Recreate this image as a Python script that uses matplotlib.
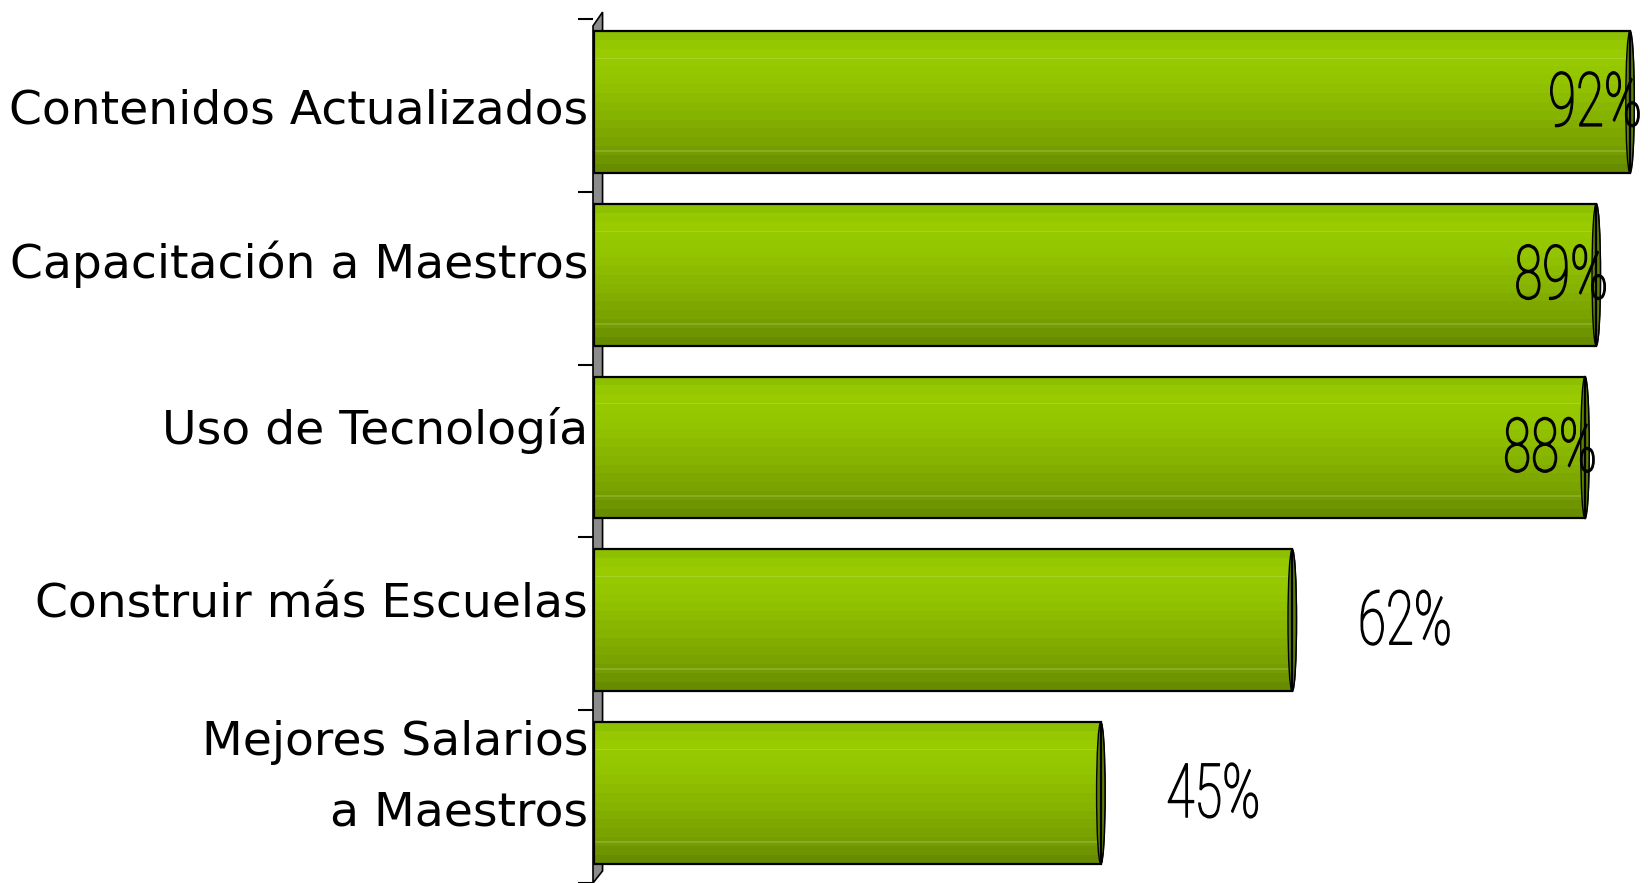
import numpy as np
import matplotlib
matplotlib.use("Agg")
import matplotlib.pyplot as plt
from matplotlib.patches import Polygon, Ellipse, Rectangle
from matplotlib.colors import LinearSegmentedColormap
from matplotlib.patheffects import AbstractPathEffect
from matplotlib.transforms import Affine2D

categories = ["Contenidos Actualizados", "Capacitación a Maestros", "Uso de Tecnología",
              "Construir más Escuelas", "Mejores Salarios\na Maestros"]
values = [92, 89, 88, 62, 45]
value_labels = ["92%", "89%", "88%", "62%", "45%"]


class HScale(AbstractPathEffect):
    """Horizontally condense text glyphs (narrow font look), with optional outline."""
    def __init__(self, sx, anchor="center", stroke=0.0):
        super().__init__()
        self.sx = sx
        self.anchor = anchor
        self.stroke = stroke

    def draw_path(self, renderer, gc, tpath, affine, rgbFace=None):
        bb = tpath.get_extents(affine)
        if self.anchor == "center":
            x0 = (bb.x0 + bb.x1) / 2
        elif self.anchor == "right":
            x0 = bb.x1
        else:
            x0 = bb.x0
        new = affine + Affine2D().translate(-x0, 0).scale(self.sx, 1).translate(x0, 0)
        gc0 = renderer.new_gc()
        gc0.copy_properties(gc)
        if self.stroke > 0 and rgbFace is not None:
            gc0.set_linewidth(self.stroke)
            gc0.set_foreground(rgbFace)
            gc0.set_joinstyle("round")
        renderer.draw_path(gc0, tpath, new, rgbFace)
        gc0.restore()


W, H = 1648, 883
fig = plt.figure(figsize=(W / 100, H / 100), dpi=100)
ax = fig.add_axes([593 / W, 0, 1055 / W, 864 / H])
ax.set_xlim(-0.1, 93.6)
ax.set_ylim(4.5, -0.5)

# gradient for the cylinder bars (banded like the original)
stops = [(0.0, "#8cc000"), (0.10, "#9acd00"), (0.35, "#93c400"),
         (0.60, "#86b200"), (0.85, "#77a000"), (1.0, "#688c00")]
cmap = LinearSegmentedColormap.from_list("g", stops)
nb = 16
grad = np.floor(np.linspace(0, 1, 200) * nb) / (nb - 1)
grad = np.clip(grad, 0, 1)
rgb = cmap(grad)[:, None, :3]
for idx in (38, 39, 168, 169):
    rgb[idx] = np.clip(rgb[idx] * 0.85 + 0.15, 0, 1)

# left wall
wall = Polygon([(-0.1, -0.46), (0.75, -0.54), (0.75, 4.43), (-0.1, 4.5)],
               closed=True, facecolor="#8c8c8c", edgecolor="black", lw=1.2,
               clip_on=False, zorder=1)
ax.add_patch(wall)

h = 0.82
ypos = np.arange(len(categories)) - 0.02
bars = ax.barh(ypos, values, height=h, left=0, color="none", edgecolor="black",
               linewidth=1.6, zorder=4)
for b, y, v in zip(bars, ypos, values):
    cap = Ellipse((v, y), width=0.75, height=h, facecolor="#5f7f00",
                  edgecolor="black", lw=1.2, zorder=2)
    ax.add_patch(cap)
    im = ax.imshow(rgb, extent=[0, v, y + h / 2, y - h / 2], aspect="auto",
                   interpolation="nearest", zorder=3)
    im.set_clip_path(b)
    cap2 = Ellipse((v, y), width=0.75, height=h, facecolor="#5f7f00",
                   edgecolor="black", lw=1.0, zorder=3.5)
    cap2.set_clip_path(Rectangle((v - 0.12, y - h / 2), 1.0, h, transform=ax.transData))
    ax.add_patch(cap2)

ax.set_xlim(-0.1, 93.6)
ax.set_ylim(4.5, -0.5)

# value labels (narrow font look)
for y, v, t in zip(ypos, values, value_labels):
    xc = v + 10 if v + 10 < 88 else v - 3.1
    ax.text(xc, y + 0.02, t, ha="center", va="center", fontsize=54,
            family="Roboto", weight="light", color="black", zorder=6,
            path_effects=[HScale(0.68, "center", stroke=1.0)])

# category labels
label_nudge = [0.03, -0.08, -0.12, -0.11, -0.11]
for i, (c, dn) in enumerate(zip(categories, label_nudge)):
    ax.text(-0.55, i + dn, c, ha="right", va="center", fontsize=34,
            family="DejaVu Sans", color="black", linespacing=1.72, clip_on=False)

for s in ax.spines.values():
    s.set_visible(False)
ax.set_xticks([])
ax.set_yticks(np.arange(-0.5, 5, 1.0))
ax.set_yticklabels([])
ax.tick_params(axis="y", length=11, width=1.5, color="black", direction="out")
ax.patch.set_alpha(0)

fig.savefig("out.png", dpi=100)
